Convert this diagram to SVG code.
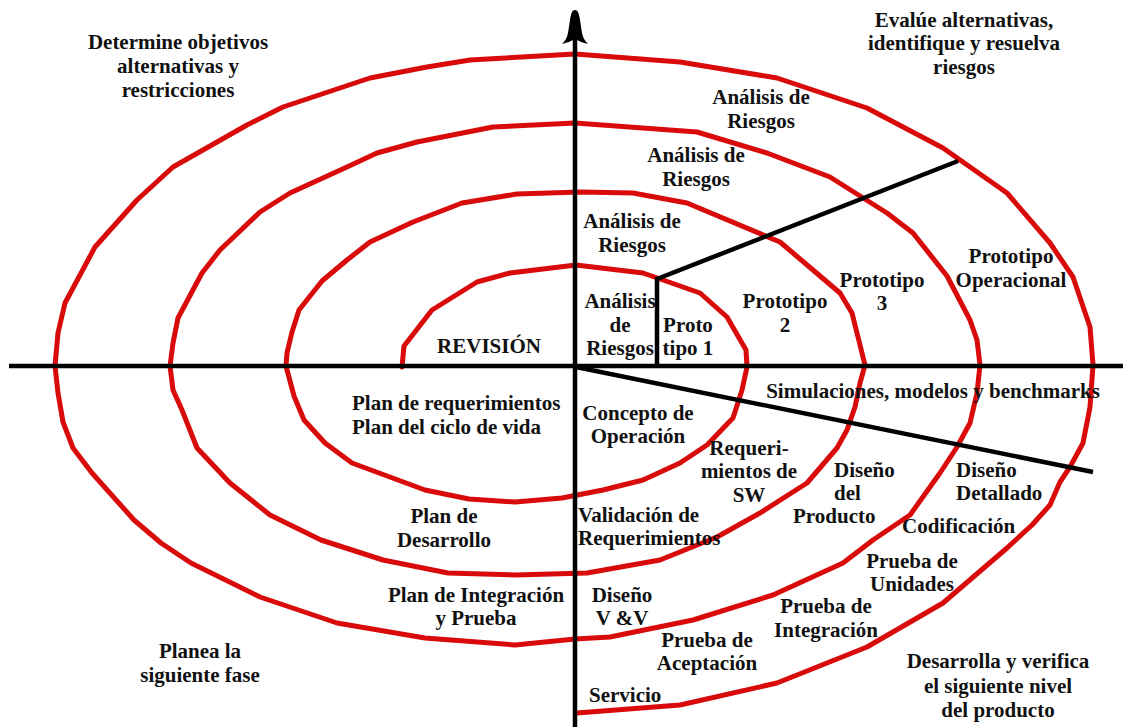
<svg xmlns="http://www.w3.org/2000/svg" width="1123" height="727" viewBox="0 0 1123 727">
  <style>
    .spiral { fill: none; stroke: #d80a0a; stroke-width: 5; stroke-linejoin: round; stroke-linecap: round; }
    .axis { fill: none; stroke: #000; stroke-width: 4.5; }
    .lbl { font-family: "Liberation Serif", "Times New Roman", serif; font-weight: bold; font-size: 21px; fill: #111; }
    .c { text-anchor: middle; }
  </style>
  <rect width="1123" height="727" fill="#fff"/>

  <!-- spiral of the process, one continuous polyline from the centre outwards -->
  <g id="spiral">
    <polyline class="spiral" points="
      402,367 404,346 432,310 477,282 510,273 576,265 643,273 700,293 727,317 746,350 747,367
      742,390 733,418 707,445 680,463 643,480 603,490 562,498 515,502 469,499 425,490 352,463 325,443 304,420 294,396 286,366
      287,353 292,332 299,310 322,281 347,260 370,242 413,222 462,203 517,194 580,192 633,193 687,203 780,242 813,270 840,293 852,313 858,337 865,365
      860,383 855,407 847,430 837,448 807,483 760,513 717,537 660,560 587,573 515,575 448,573 383,560 321,540 270,515 230,483 197,448 182,410 173,390 170,366
      173,343 178,318 202,273 220,250 260,212 290,193 347,167 377,153 417,142 493,127 575,123 697,132 767,153 830,177 887,213 913,233 947,276 970,320 977,340 980,365
      977,393 970,423 957,447 940,473 910,515 873,540 843,563 773,595 693,620 610,637 575,639 515,645 425,638 337,623 260,597 191,563 161,543 134,520 92,473 73,448 63,422 58,393 55,366
      58,333 65,303 95,247 137,200 173,167 247,125 283,107 370,78 427,67 470,60 575,54 680,62 777,78 867,108 943,148 1007,193 1050,243 1073,277 1090,327 1093,365
      1090,407 1083,443 1070,467 1060,482 1050,505 1032,525 1007,548 943,603 867,647 777,683 680,705 577,713"/>
  </g>

  <!-- axes and the sector dividers -->
  <g id="connectors">
    <line class="axis" x1="9" y1="366" x2="1123" y2="366"/>
    <line class="axis" x1="575" y1="38" x2="575" y2="727"/>
    <path d="M575,10 C578,10 579,14 580,20 L582,33 C583,38 585,41 588,44 C583,43 579,41 575,39 C571,41 567,43 562,44 C565,41 567,38 568,33 L570,20 C571,14 572,10 575,10 Z" fill="#000"/>
    <polyline class="axis" points="657,366 657,279 958,161"/>
    <line class="axis" x1="576" y1="367" x2="1093" y2="472"/>
  </g>

  <!-- quadrant headings -->
  <g id="q-objetivos" class="lbl c">
    <text x="178" y="49">Determine objetivos</text>
    <text x="178" y="73">alternativas y</text>
    <text x="178" y="97">restricciones</text>
  </g>
  <g id="q-riesgos" class="lbl c">
    <text x="964" y="27">Evalúe alternativas,</text>
    <text x="964" y="50">identifique y resuelva</text>
    <text x="964" y="74">riesgos</text>
  </g>
  <g id="q-planea" class="lbl c">
    <text x="200" y="658">Planea la</text>
    <text x="200" y="682">siguiente fase</text>
  </g>
  <g id="q-desarrolla" class="lbl c">
    <text x="998" y="668">Desarrolla y verifica</text>
    <text x="998" y="693">el siguiente nivel</text>
    <text x="998" y="717">del producto</text>
  </g>

  <!-- risk analysis, one per turn -->
  <g id="analisis-4" class="lbl c">
    <text x="761" y="104">Análisis de</text>
    <text x="761" y="128">Riesgos</text>
  </g>
  <g id="analisis-3" class="lbl c">
    <text x="696" y="162">Análisis de</text>
    <text x="696" y="186">Riesgos</text>
  </g>
  <g id="analisis-2" class="lbl c">
    <text x="632" y="228">Análisis de</text>
    <text x="632" y="252">Riesgos</text>
  </g>
  <g id="analisis-1" class="lbl c">
    <text x="620" y="308">Análisis</text>
    <text x="620" y="332">de</text>
    <text x="620" y="355">Riesgos</text>
  </g>

  <!-- prototypes -->
  <g id="prototipo-1" class="lbl c">
    <text x="688" y="332">Proto</text>
    <text x="688" y="355">tipo 1</text>
  </g>
  <g id="prototipo-2" class="lbl c">
    <text x="785" y="308">Prototipo</text>
    <text x="785" y="332">2</text>
  </g>
  <g id="prototipo-3" class="lbl c">
    <text x="882" y="287">Prototipo</text>
    <text x="882" y="310">3</text>
  </g>
  <g id="prototipo-op" class="lbl c">
    <text x="1011" y="263">Prototipo</text>
    <text x="1011" y="287">Operacional</text>
  </g>
  <g id="simulaciones" class="lbl c">
    <text x="933" y="398">Simulaciones, modelos y benchmarks</text>
  </g>

  <!-- review and planning -->
  <g id="revision" class="lbl c">
    <text x="489" y="353">REVISIÓN</text>
  </g>
  <g id="plan-req" class="lbl">
    <text x="352" y="410">Plan de requerimientos</text>
    <text x="352" y="434">Plan del ciclo de vida</text>
  </g>
  <g id="plan-des" class="lbl c">
    <text x="444" y="523">Plan de</text>
    <text x="444" y="547">Desarrollo</text>
  </g>
  <g id="plan-int" class="lbl c">
    <text x="476" y="602">Plan de Integración</text>
    <text x="476" y="625">y Prueba</text>
  </g>

  <!-- development steps -->
  <g id="concepto" class="lbl c">
    <text x="638" y="420">Concepto de</text>
    <text x="638" y="443">Operación</text>
  </g>
  <g id="req-sw" class="lbl c">
    <text x="749" y="455">Requeri-</text>
    <text x="749" y="478">mientos de</text>
    <text x="749" y="502">SW</text>
  </g>
  <g id="diseno-prod" class="lbl">
    <text x="834" y="477">Diseño</text>
    <text x="834" y="500">del</text>
    <text x="793" y="523">Producto</text>
  </g>
  <g id="diseno-det" class="lbl">
    <text x="956" y="477">Diseño</text>
    <text x="956" y="500">Detallado</text>
  </g>
  <g id="codificacion" class="lbl">
    <text x="902" y="533">Codificación</text>
  </g>
  <g id="prueba-uni" class="lbl c">
    <text x="912" y="568">Prueba de</text>
    <text x="912" y="591">Unidades</text>
  </g>
  <g id="prueba-int" class="lbl c">
    <text x="826" y="613">Prueba de</text>
    <text x="826" y="637">Integración</text>
  </g>
  <g id="validacion" class="lbl">
    <text x="578" y="522">Validación de</text>
    <text x="578" y="545">Requerimientos</text>
  </g>
  <g id="diseno-vv" class="lbl c">
    <text x="622" y="602">Diseño</text>
    <text x="622" y="625">V &amp;V</text>
  </g>
  <g id="prueba-acep" class="lbl c">
    <text x="707" y="647">Prueba de</text>
    <text x="707" y="670">Aceptación</text>
  </g>
  <g id="servicio" class="lbl">
    <text x="589" y="702">Servicio</text>
  </g>
</svg>
